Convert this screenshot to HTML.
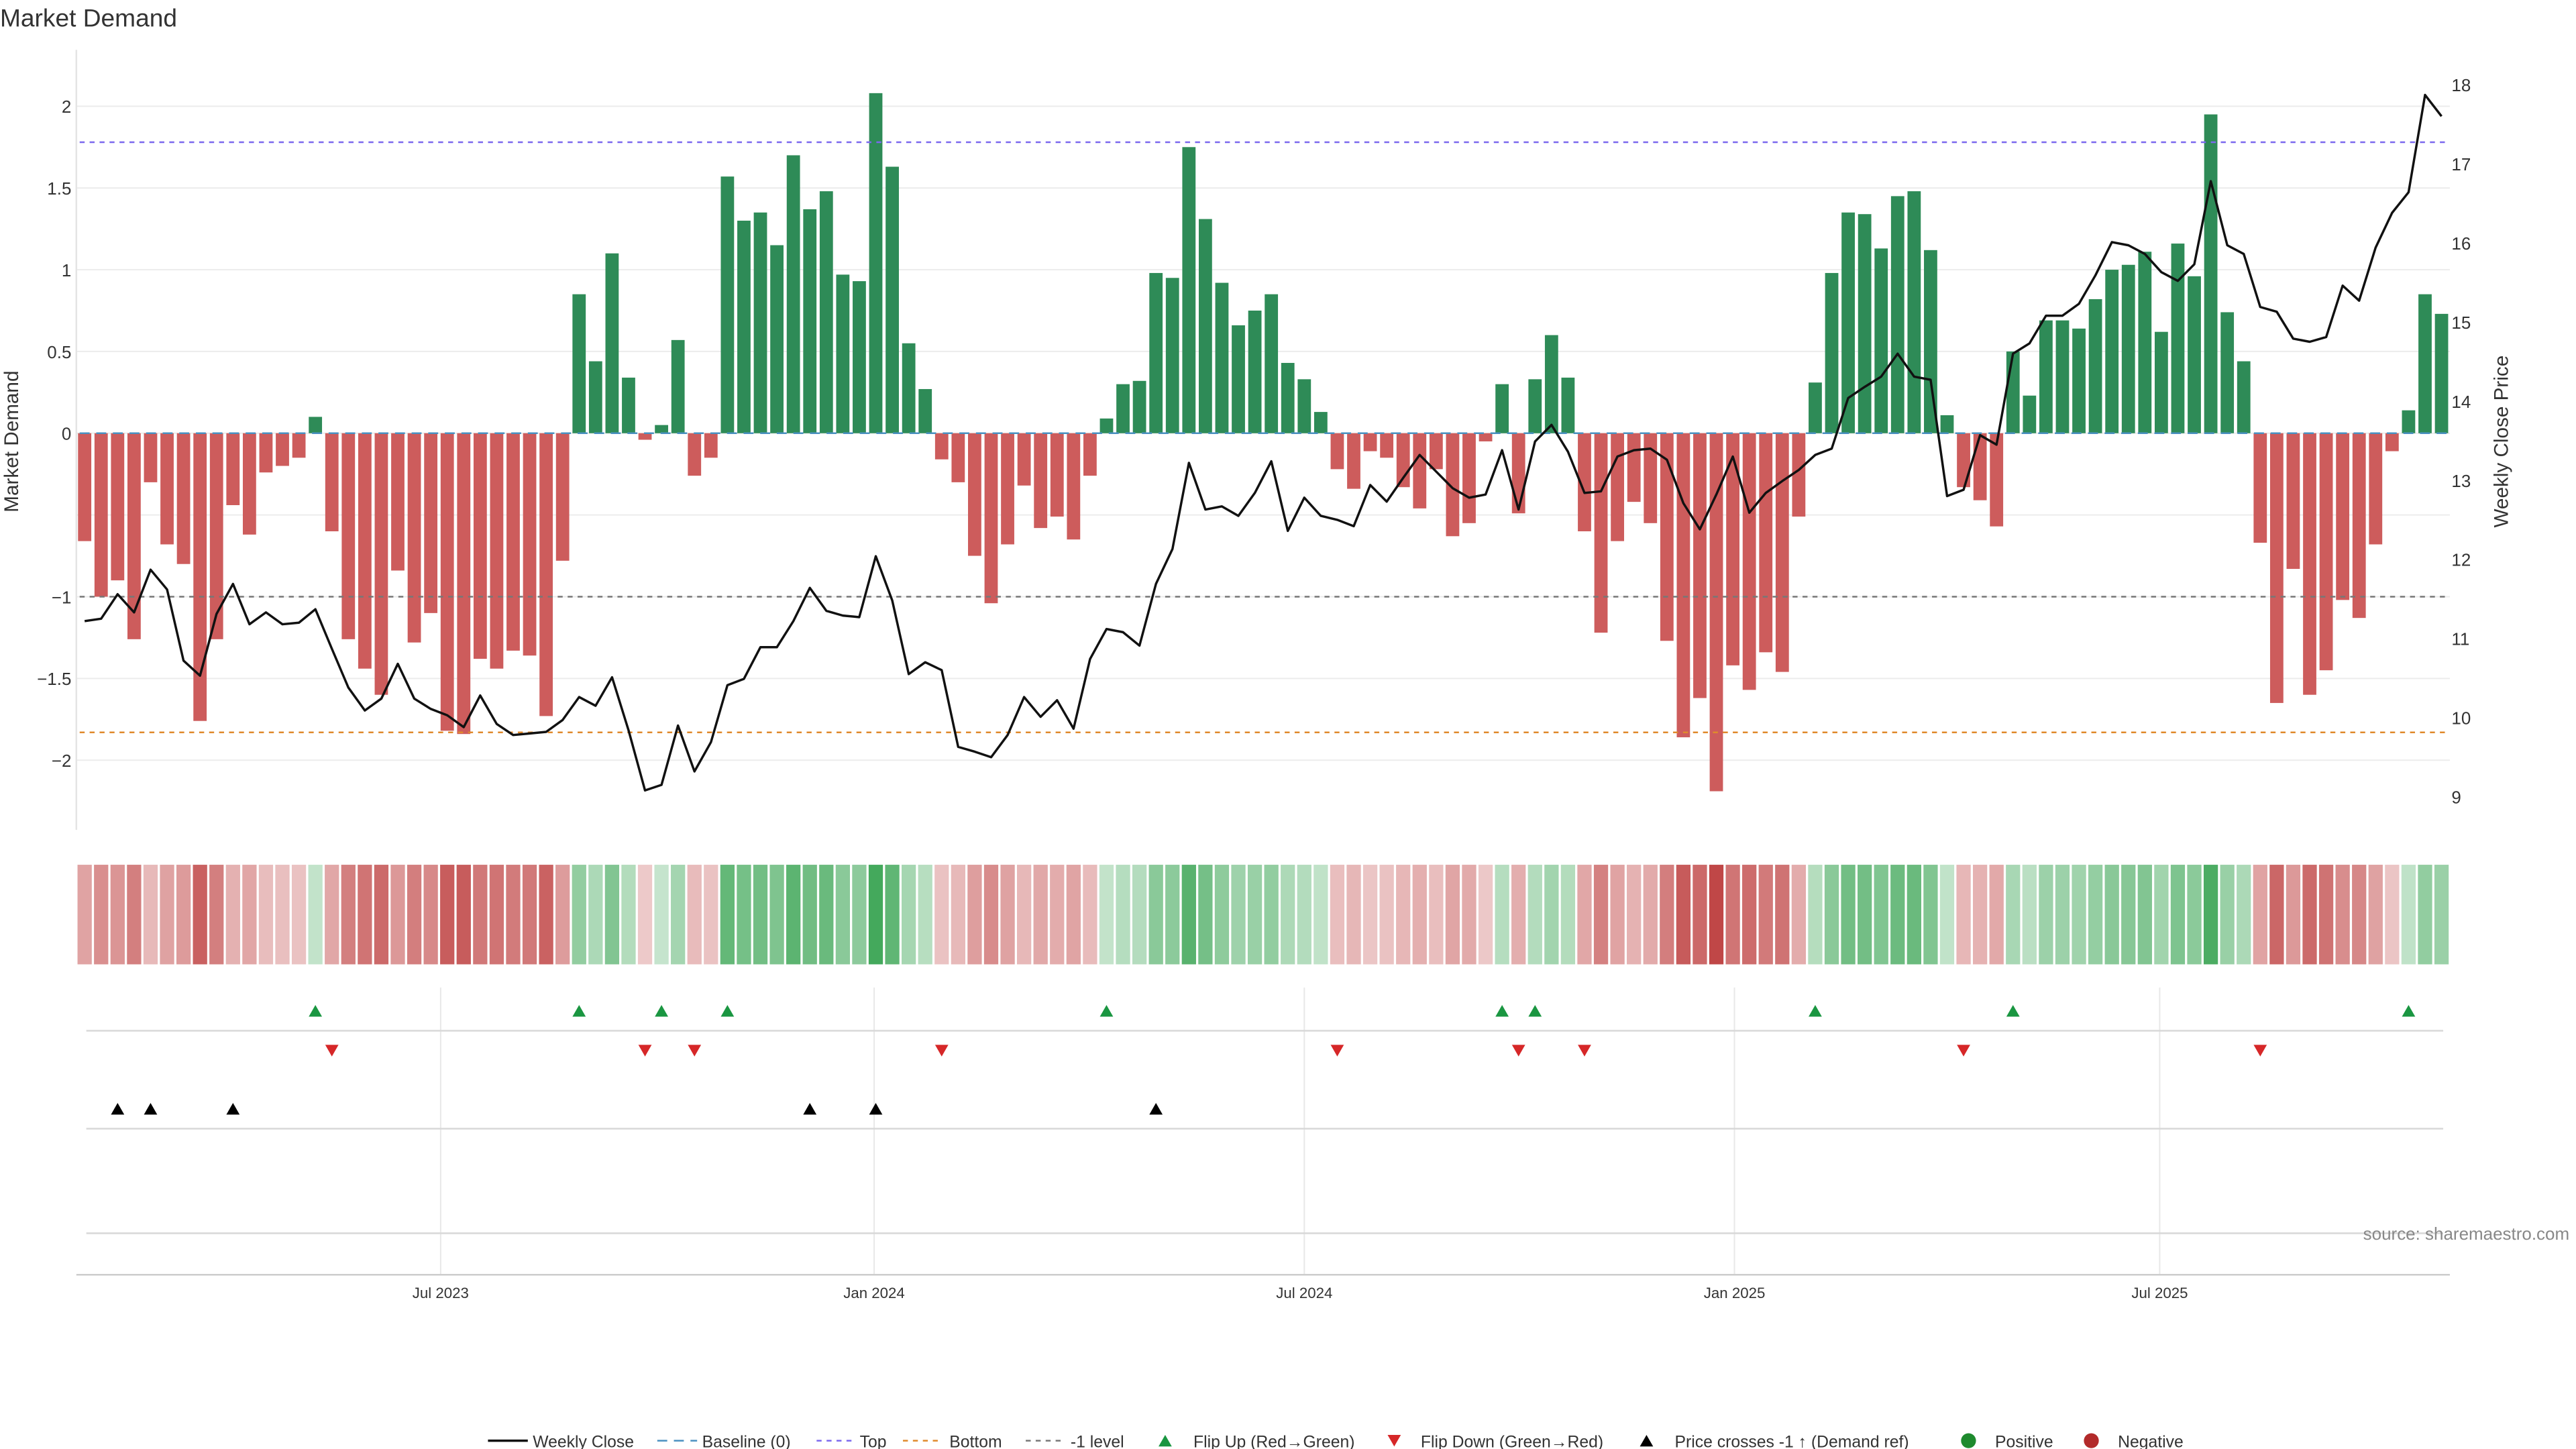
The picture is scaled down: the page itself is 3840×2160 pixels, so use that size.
<!DOCTYPE html>
<html><head><meta charset="utf-8"><style>
html,body{margin:0;padding:0;background:#fff;}
svg{display:block;font-family:"Liberation Sans",sans-serif;}
</style></head><body>
<svg id="chart" width="3840" height="2160" viewBox="0 0 1552 873" xmlns="http://www.w3.org/2000/svg">
<text x="0" y="16" font-size="15" fill="#333">Market Demand</text>
<g id="grid"></g><g id="bars"></g><g id="lines"></g><g id="heat"></g><g id="marks"></g><g id="axes"></g>
<text x="1548" y="747" font-size="10.5" fill="#888" text-anchor="end">source: sharemaestro.com</text>
<g id="legend"></g>
</svg>
<script>
const demand=[-0.66,-1.0,-0.9,-1.26,-0.3,-0.68,-0.8,-1.76,-1.26,-0.44,-0.62,-0.24,-0.2,-0.15,0.1,-0.6,-1.26,-1.44,-1.6,-0.84,-1.28,-1.1,-1.82,-1.84,-1.38,-1.44,-1.33,-1.36,-1.73,-0.78,0.85,0.44,1.1,0.34,-0.04,0.05,0.57,-0.26,-0.15,1.57,1.3,1.35,1.15,1.7,1.37,1.48,0.97,0.93,2.08,1.63,0.55,0.27,-0.16,-0.3,-0.75,-1.04,-0.68,-0.32,-0.58,-0.51,-0.65,-0.26,0.09,0.3,0.32,0.98,0.95,1.75,1.31,0.92,0.66,0.75,0.85,0.43,0.33,0.13,-0.22,-0.34,-0.11,-0.15,-0.33,-0.46,-0.22,-0.63,-0.55,-0.05,0.3,-0.49,0.33,0.6,0.34,-0.6,-1.22,-0.66,-0.42,-0.55,-1.27,-1.86,-1.62,-2.19,-1.42,-1.57,-1.34,-1.46,-0.51,0.31,0.98,1.35,1.34,1.13,1.45,1.48,1.12,0.11,-0.33,-0.41,-0.57,0.5,0.23,0.69,0.69,0.64,0.82,1.0,1.03,1.11,0.62,1.16,0.96,1.95,0.74,0.44,-0.67,-1.65,-0.83,-1.6,-1.45,-1.02,-1.13,-0.68,-0.11,0.14,0.85,0.73];
const price=[11.22,11.25,11.56,11.33,11.87,11.62,10.72,10.53,11.31,11.69,11.18,11.33,11.18,11.2,11.37,10.87,10.38,10.09,10.24,10.68,10.24,10.11,10.03,9.88,10.28,9.92,9.78,9.8,9.82,9.97,10.26,10.15,10.51,9.84,9.08,9.15,9.9,9.32,9.69,10.41,10.49,10.89,10.89,11.22,11.64,11.35,11.29,11.27,12.04,11.48,10.55,10.7,10.6,9.63,9.57,9.5,9.78,10.26,10.01,10.22,9.86,10.74,11.12,11.08,10.91,11.69,12.13,13.22,12.63,12.67,12.55,12.84,13.24,12.36,12.78,12.55,12.5,12.42,12.94,12.73,13.03,13.32,13.11,12.9,12.78,12.82,13.38,12.63,13.49,13.7,13.36,12.84,12.86,13.3,13.38,13.4,13.26,12.71,12.38,12.82,13.3,12.59,12.84,12.99,13.13,13.32,13.4,14.04,14.18,14.31,14.6,14.31,14.27,12.8,12.88,13.57,13.45,14.6,14.73,15.08,15.08,15.23,15.59,16.01,15.97,15.86,15.63,15.52,15.73,16.78,15.97,15.86,15.19,15.13,14.79,14.75,14.81,15.46,15.27,15.94,16.38,16.64,17.87,17.6];
const leftTicks=[2,1.5,1,0.5,0,-1,-1.5,-2];
const gridTicks=[2,1.5,1,0.5,0,-0.5,-1,-1.5,-2];
const rightTicks=[18,17,16,15,14,13,12,11,10,9];
const dateLabels=["Jul 2023","Jan 2024","Jul 2024","Jan 2025","Jul 2025"];
const dateIdx=[21.6,47.9,74,100.1,125.9];
const topLevel=1.78, bottomLevel=-1.83, refLevel=-1;

const NS="http://www.w3.org/2000/svg";
const xS=i=>51+i*9.93;
const yL=v=>261-v*98.5;
const yR=p=>51+(18-p)*47.67;
const pToD=p=>(261-yR(p))/98.5;
function mk(tag,attrs,parent,txt){const e=document.createElementNS(NS,tag);for(const k in attrs)e.setAttribute(k,attrs[k]);if(txt!==undefined)e.textContent=txt;document.getElementById(parent).appendChild(e);return e;}

// grid
gridTicks.forEach(t=>{const e=mk('line',{x1:46,x2:1476,y1:yL(t),y2:yL(t),stroke:'#ececec','stroke-width':0.8},'grid');

});
dateIdx.forEach(d=>{const e=mk('line',{x1:xS(d),x2:xS(d),y1:595,y2:768,stroke:'#e8e8e8','stroke-width':0.8},'grid');

});

// bars
demand.forEach((v,i)=>{const y0=yL(0),y1=yL(v);const e=mk('rect',{x:xS(i)-4,y:Math.min(y0,y1),width:8,height:Math.max(0.5,Math.abs(y1-y0)),fill:v>=0?'#2e8b57':'#cd5c5c'},'bars');

});

// reference lines
[[0,'#4a90c0','6,4'],[topLevel,'#7b68ee','3,3'],[bottomLevel,'#e08a2c','3,3'],[refLevel,'#777','3,3']].forEach(r=>{const e=mk('line',{x1:48,x2:1474,y1:yL(r[0]),y2:yL(r[0]),stroke:r[1],'stroke-width':1,'stroke-dasharray':r[2]},'lines');

});

// price line
const pl=mk('polyline',{points:price.map((p,i)=>xS(i)+','+yR(p)).join(' '),fill:'none',stroke:'#111','stroke-width':1.4,'stroke-linejoin':'round'},'lines');



// heatmap
function mix(c,t){return 'rgb('+c.map(x=>Math.round(255+(x-255)*t)).join(',')+')';}
demand.forEach((v,i)=>{const t=Math.min(1,0.28+0.72*Math.abs(v)/2.2);const e=mk('rect',{x:xS(i)-4.3,y:521,width:8.6,height:60,fill:v>=0?mix([60,165,85],t):mix([192,70,70],t)},'heat');

});

// marker rows
[621,680,743].forEach(y=>{const e=mk('line',{x1:52,x2:1472,y1:y,y2:y,stroke:'#d8d8d8','stroke-width':1},'marks');

});
function tri(x,y,up,col){const s=4;const pts=up?`${x-s},${y+3.5} ${x+s},${y+3.5} ${x},${y-3.5}`:`${x-s},${y-3.5} ${x+s},${y-3.5} ${x},${y+3.5}`;return mk('polygon',{points:pts,fill:col},'marks');}
for(let i=1;i<demand.length;i++){
 if(demand[i-1]<0&&demand[i]>=0){const e=tri(xS(i),609,true,'#1a9641');
 
 }
 if(demand[i-1]>=0&&demand[i]<0){const e=tri(xS(i),633,false,'#d62728');
 
 }
 if(pToD(price[i-1])<refLevel&&pToD(price[i])>=refLevel){const e=tri(xS(i),668,true,'#000');
 
 }
}

// axes
const xa=mk('line',{x1:46,x2:1476,y1:768,y2:768,stroke:'#ccc','stroke-width':1},'axes');


const ya=mk('line',{x1:46,x2:46,y1:30,y2:500,stroke:'#e4e4e4','stroke-width':1},'axes');


leftTicks.forEach(t=>{const e=mk('text',{x:43,y:yL(t)+4,'font-size':10.5,fill:'#333','text-anchor':'end'},'axes',t<0?'−'+Math.abs(t):String(t));

});
rightTicks.forEach(t=>{const e=mk('text',{x:1477,y:yR(t)+4,'font-size':10.5,fill:'#333'},'axes',String(t));

});
dateLabels.forEach((d,k)=>{const e=mk('text',{x:xS(dateIdx[k]),y:782,'font-size':9,fill:'#333','text-anchor':'middle'},'axes',d);

});
const lt=mk('text',{x:0,y:0,'font-size':12,fill:'#333','text-anchor':'middle',transform:'translate(11,266) rotate(-90)'},'axes','Market Demand');


const rt=mk('text',{x:0,y:0,'font-size':12,fill:'#333','text-anchor':'middle',transform:'translate(1511,266) rotate(-90)'},'axes','Weekly Close Price');



// legend
const ly=868;
function ltext(x,s){const e=mk('text',{x:x,y:ly+4,'font-size':10,fill:'#333'},'legend',s);

}
function lline(x,col,dash,w){const e=mk('line',{x1:x,x2:x+24,y1:ly,y2:ly,stroke:col,'stroke-width':w,'stroke-dasharray':dash},'legend');

}
lline(294,'#111','none',1.4);ltext(321,'Weekly Close');
lline(396,'#4a90c0','6,4',1);ltext(423,'Baseline (0)');
lline(492,'#7b68ee','3,3',1);ltext(518,'Top');
lline(544,'#e08a2c','3,3',1);ltext(572,'Bottom');
lline(618,'#777','3,3',1);ltext(645,'-1 level');
let t1=tri(702,ly,true,'#1a9641');document.getElementById('legend').appendChild(t1);ltext(719,'Flip Up (Red→Green)');
let t2=tri(840,ly,false,'#d62728');document.getElementById('legend').appendChild(t2);ltext(856,'Flip Down (Green→Red)');
let t3=tri(992,ly,true,'#000');document.getElementById('legend').appendChild(t3);ltext(1009,'Price crosses -1 ↑ (Demand ref)');
const c1=mk('circle',{cx:1186,cy:ly,r:4.5,fill:'#1e8a2e'},'legend');ltext(1202,'Positive');
const c2=mk('circle',{cx:1260,cy:ly,r:4.5,fill:'#b22a2a'},'legend');ltext(1276,'Negative');
</script>
</body></html>
